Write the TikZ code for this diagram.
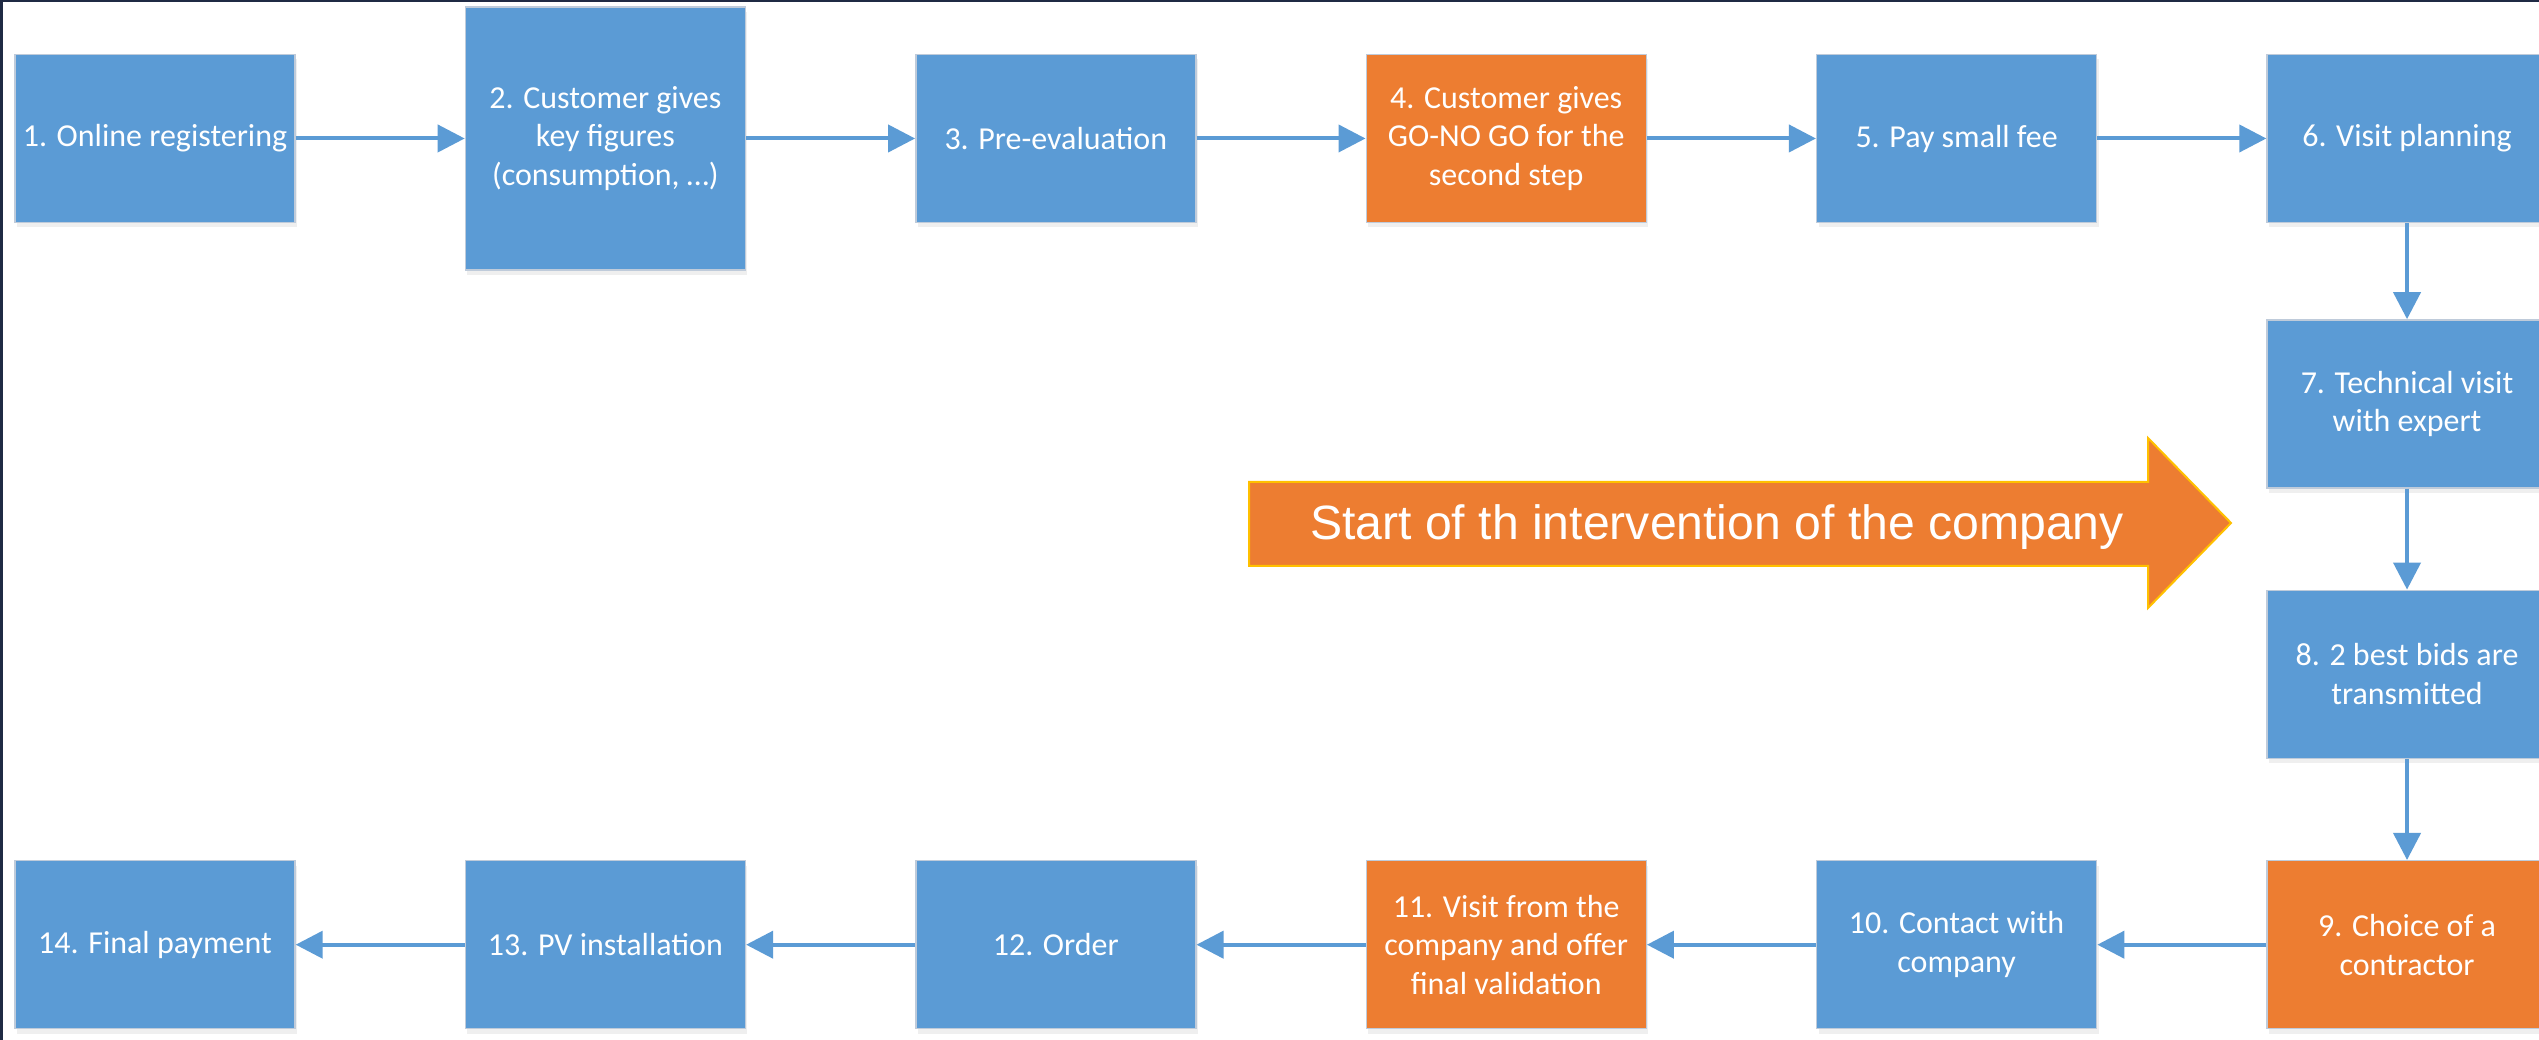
\documentclass[tikz,border=0pt]{standalone}
\usepackage{fontspec}
\setmainfont{Carlito}
\newfontfamily\arrowfont{Liberation Sans}
\usetikzlibrary{shadows}
\usetikzlibrary{arrows.meta,shapes}
\usetikzlibrary{positioning}
\definecolor{stepblue}{HTML}{5B9BD5}
\definecolor{steporange}{HTML}{ED7D31}
\definecolor{framenavy}{HTML}{1F2A44}
\definecolor{arrowgold}{HTML}{FFC000}
\definecolor{boxedge}{HTML}{BFCBDA}
\tikzstyle{stepbox}=[rectangle,fill=stepblue,draw=boxedge,line width=0.4pt,minimum width=2.8cm,minimum height=1.68cm,inner sep=2pt,align=center,text=white,font=\fontsize{9.1pt}{11pt}\selectfont,drop shadow={opacity=0.12,shadow xshift=0.02cm,shadow yshift=-0.05cm}]
\tikzstyle{keybox}=[stepbox,fill=steporange]
\tikzstyle{flow} = [draw,line width=0.04cm,stepblue,-{Triangle[length=0.27cm,width=0.27cm]}]
\tikzstyle{bigtext} = [text=white,font=\arrowfont\fontsize{13.7pt}{16pt}\selectfont]

\begin{document}
\begin{tikzpicture}
    % Page and frame
    \useasboundingbox (0,0) rectangle (25.39,10.40);
    \fill[white] (0,0) rectangle (25.39,10.40);
    \fill[framenavy] (0,0) rectangle (0.027,10.40);
    \fill[framenavy] (0,10.38) rectangle (25.39,10.40);

    % First row, left to right
    \node[stepbox] (s1) at (1.55,9.015) {1. Online registering};
    \node[stepbox,minimum height=2.63cm,right=1.69cm of s1] (s2) {2. Customer gives\\key figures\\(consumption, …)};
    \node[stepbox,right=1.69cm of s2] (s3) {3. Pre-evaluation};
    \node[keybox,right=1.69cm of s3] (s4) {4. Customer gives\\GO-NO GO for the\\second step};
    \node[stepbox,right=1.69cm of s4] (s5) {5. Pay small fee};
    \node[stepbox,right=1.69cm of s5] (s6) {6. Visit planning};

    % Right column, downwards
    \node[stepbox,below=0.96cm of s6] (s7) {7. Technical visit\\with expert};
    \node[stepbox,below=1.01cm of s7] (s8) {8. 2 best bids are\\transmitted};
    \node[keybox,below=1.01cm of s8] (s9) {9. Choice of a\\contractor};

    % Last row, right to left
    \node[stepbox,left=1.69cm of s9] (s10) {10. Contact with\\company};
    \node[keybox,left=1.69cm of s10] (s11) {11. Visit from the\\company and offer\\final validation};
    \node[stepbox,left=1.69cm of s11] (s12) {12. Order};
    \node[stepbox,left=1.69cm of s12] (s13) {13. PV installation};
    \node[stepbox,left=1.69cm of s13] (s14) {14. Final payment};

    % Connect the steps
    \foreach \source/ \dest in {s1/s2,s2/s3,s3/s4,s4/s5,s5/s6,s6/s7,s7/s8,s8/s9,s9/s10,s10/s11,s11/s12,s12/s13,s13/s14}
        \path[flow] (\source) -- (\dest);

    % Big arrow
    \draw[fill=steporange,draw=arrowgold,line width=0.02cm]
        (12.49,4.74) -- (12.49,5.58) -- (21.48,5.58) -- (21.48,6.02)
        -- (22.31,5.17) -- (21.48,4.32) -- (21.48,4.74) -- cycle;
    \node[bigtext] (start) at (17.17,5.13) {Start of th intervention of the company};
\end{tikzpicture}
\end{document}
